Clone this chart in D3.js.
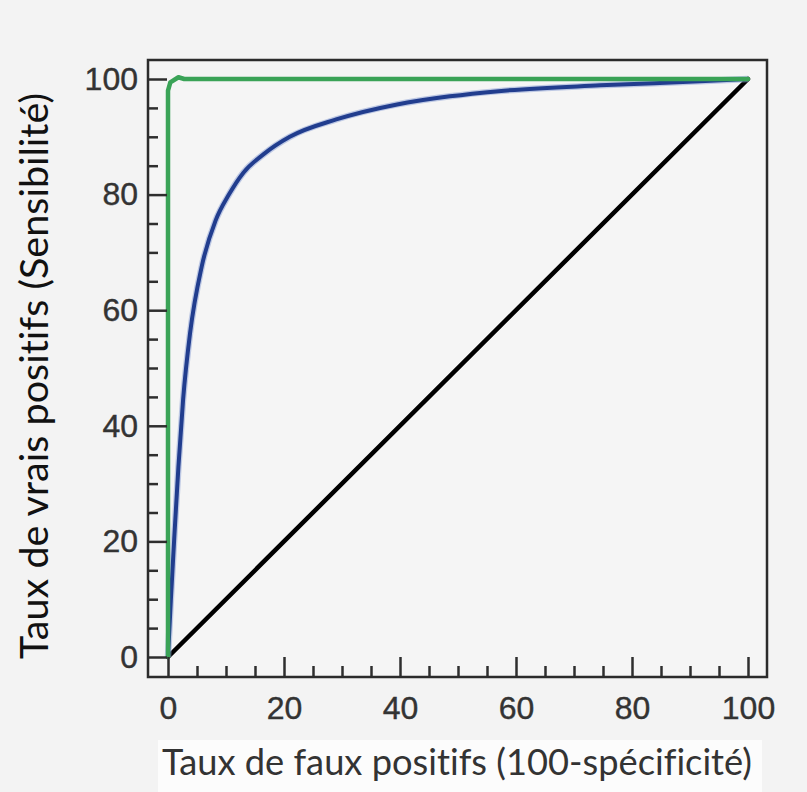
<!DOCTYPE html>
<html>
<head>
<meta charset="utf-8">
<script src="https://cdn.jsdelivr.net/npm/d3@7"></script>
<style>
  html, body { margin: 0; padding: 0; background: #f3f3f3; }
  svg { display: block; }
  text { font-variant-ligatures: none; font-feature-settings: "liga" 0; }
</style>
</head>
<body>
<svg id="chart" width="807" height="792"></svg>
<script>
// ROC curves: false positive rate (x) vs true positive rate (y), in %
const blueFpr = [0, 0.5, 1.1, 1.8, 2.6, 3.8, 5.8, 8.2, 10.5, 13, 16.5, 21, 29, 39.5, 48.6, 57, 74.5, 91.7, 100];
const blueTpr = [0, 10, 21, 33, 44.5, 56, 67.5, 75.5, 80, 83.8, 87, 90, 93, 95.6, 97, 97.9, 98.9, 99.6, 100];

const greenFpr = [0, 0, 0.4, 1.8, 2.8, 100];
const greenTpr = [0, 98, 99.4, 100.3, 100, 100];

const diagFpr = [0, 100];
const diagTpr = [0, 100];

const majorTicks = [0, 20, 40, 60, 80, 100];
const minorTicks = [5, 10, 15, 25, 30, 35, 45, 50, 55, 65, 70, 75, 85, 90, 95];

const xTitle = "Taux de faux positifs (100-spécificité)";
const yTitle = "Taux de vrais positifs (Sensibilité)";

const svg = d3.select("#chart");
const W = 807, H = 792;

svg.append("rect").attr("width", W).attr("height", H).attr("fill", "#f3f3f3");

const x = d3.scaleLinear().domain([0, 100]).range([168, 748]);
const y = d3.scaleLinear().domain([0, 100]).range([657, 79]);

const pad = 20;
const frame = {
  left: x(0) - pad, right: x(100) + 19,
  top: y(100) - 19, bottom: y(0) + pad
};

// lighter band behind the x-axis title
svg.append("rect")
  .attr("x", 158).attr("y", 740).attr("width", 604).attr("height", 52)
  .attr("fill", "#fcfcfc");

// plot area
svg.append("rect")
  .attr("x", frame.left).attr("y", frame.top)
  .attr("width", frame.right - frame.left).attr("height", frame.bottom - frame.top)
  .attr("fill", "#f5f5f5");

// curves
const line = (xs, ys, curve) => d3.line()
  .x((d, i) => x(xs[i]))
  .y((d, i) => y(ys[i]))
  .curve(curve)(xs);

svg.append("path")
  .attr("d", line(diagFpr, diagTpr, d3.curveLinear))
  .attr("fill", "none").attr("stroke", "#000").attr("stroke-width", 4.5)
  .attr("stroke-linecap", "round");

svg.append("path")
  .attr("d", line(blueFpr, blueTpr, d3.curveMonotoneX))
  .attr("fill", "none").attr("stroke", "#8ea2d6").attr("stroke-width", 6.5)
  .attr("stroke-opacity", 0.55);
svg.append("path")
  .attr("d", line(blueFpr, blueTpr, d3.curveMonotoneX))
  .attr("fill", "none").attr("stroke", "#213d8e").attr("stroke-width", 4);

svg.append("path")
  .attr("d", line(greenFpr, greenTpr, d3.curveLinear))
  .attr("fill", "none").attr("stroke", "#3aa357").attr("stroke-width", 4.5)
  .attr("stroke-linejoin", "round").attr("stroke-linecap", "round");

// axes (ticks point inward from the frame)
const tickColor = "#2e2e2e";
const labelFont = "'Liberation Sans', Arial, sans-serif";

const xMajor = svg.append("g").attr("transform", `translate(0,${frame.bottom})`)
  .call(d3.axisBottom(x).tickValues(majorTicks).tickSize(-20).tickPadding(19).tickFormat(d3.format("d")));
const xMinor = svg.append("g").attr("transform", `translate(0,${frame.bottom})`)
  .call(d3.axisBottom(x).tickValues(minorTicks).tickSize(-11).tickFormat(""));
const yMajor = svg.append("g").attr("transform", `translate(${frame.left},0)`)
  .call(d3.axisLeft(y).tickValues(majorTicks).tickSize(-19).tickPadding(10).tickFormat(d3.format("d")));
const yMinor = svg.append("g").attr("transform", `translate(${frame.left},0)`)
  .call(d3.axisLeft(y).tickValues(minorTicks).tickSize(-10).tickFormat(""));

[xMajor, xMinor, yMajor, yMinor].forEach(g => {
  g.select(".domain").remove();
  g.selectAll(".tick line").attr("stroke", tickColor).attr("stroke-width", 2.5);
  g.selectAll(".tick text")
    .attr("fill", "#333")
    .attr("stroke", "#333").attr("stroke-width", 0.4)
    .style("font-family", labelFont)
    .style("font-size", "32px");
});

// frame
svg.append("rect")
  .attr("x", frame.left).attr("y", frame.top)
  .attr("width", frame.right - frame.left).attr("height", frame.bottom - frame.top)
  .attr("fill", "none").attr("stroke", "#2b2b2b").attr("stroke-width", 2.5);

// axis titles, sized to their span
function fitText(sel, targetWidth) {
  sel.style("font-size", "100px");
  const w = sel.node().getComputedTextLength();
  sel.style("font-size", (100 * targetWidth / w).toFixed(2) + "px");
}

const titleFont = "Lato, 'Open Sans', sans-serif";

const xt = svg.append("text")
  .attr("x", 457).attr("y", 775)
  .attr("text-anchor", "middle")
  .attr("fill", "#333")
  .style("font-family", titleFont)
  .text(xTitle);
fitText(xt, 590);

const yt = svg.append("text")
  .attr("transform", "translate(48,376) rotate(-90)")
  .attr("text-anchor", "middle")
  .attr("fill", "#111")
  .style("font-family", titleFont)
  .text(yTitle);
fitText(yt, 566);
</script>
</body>
</html>
